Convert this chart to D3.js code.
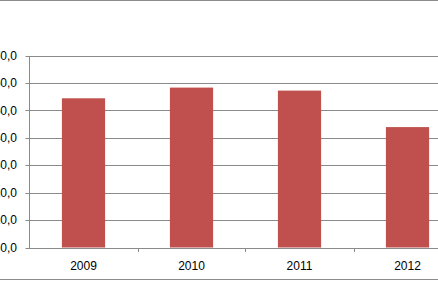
<!DOCTYPE html>
<html>
<head>
<meta charset="utf-8">
<script src="https://cdn.jsdelivr.net/npm/d3@7"></script>
<style>
  html, body { margin: 0; padding: 0; background: #fff; overflow: hidden; }
  svg { display: block; font-family: "Liberation Sans", Arial, sans-serif; }
</style>
</head>
<body>
<div id="chart"></div>
<script>
const years = ["2009", "2010", "2011", "2012"]
const values = [54.4, 58.3, 57.2, 43.9]
const yTicks = [0, 10, 20, 30, 40, 50, 60, 70]

const width = 438, height = 281
const margin = ({top: 55.5, bottom: 33.5, left: 29.5})

const svg = d3.select("#chart")
  .append("svg")
  .attr("width", width)
  .attr("height", height)
  .attr("viewBox", [0, 0, width, height])

// plot area runs past the right edge of the picture
const x = d3.scaleBand()
  .domain(years)
  .range([margin.left, margin.left + 432])
  .paddingInner(0.6)
  .paddingOuter(0.3)

const y = d3.scaleLinear()
  .domain([0, 70])
  .range([height - margin.bottom, margin.top])

const fmt = d => d3.format(".1f")(d).replace(".", ",")

// outer frame lines
svg.append("g")
  .attr("stroke", "#8c8c8c")
  .attr("stroke-width", 1.2)
  .call(g => g.append("line").attr("x1", 0).attr("x2", width).attr("y1", 0.5).attr("y2", 0.5))
  .call(g => g.append("line").attr("x1", 0).attr("x2", width).attr("y1", 279.5).attr("y2", 279.5))

// gridlines
svg.append("g")
  .attr("stroke", "#8a8a8a")
  .selectAll("line")
  .data(yTicks)
  .join("line")
  .attr("x1", margin.left - 4)
  .attr("x2", width)
  .attr("y1", d => Math.round(y(d)) + 0.5)
  .attr("y2", d => Math.round(y(d)) + 0.5)

// y axis line
svg.append("line")
  .attr("stroke", "#8a8a8a")
  .attr("x1", margin.left).attr("x2", margin.left)
  .attr("y1", Math.round(y(70)) + 0.5)
  .attr("y2", Math.round(y(0)) + 0.5)

// y labels
svg.append("g")
  .attr("font-size", 12)
  .attr("fill", "#000")
  .attr("text-anchor", "end")
  .selectAll("text")
  .data(yTicks)
  .join("text")
  .attr("x", 17)
  .attr("y", d => y(d))
  .attr("dy", "0.35em")
  .text(fmt)

// bars
svg.append("g")
  .attr("fill", "#c0504d")
  .selectAll("rect")
  .data(values)
  .join("rect")
  .attr("x", (d, i) => x(years[i]))
  .attr("width", x.bandwidth())
  .attr("y", d => y(d))
  .attr("height", d => y(0) - y(d))

// category tick marks at band edges
const step = x.step()
svg.append("g")
  .attr("stroke", "#8a8a8a")
  .selectAll("line")
  .data(years.slice(1))
  .join("line")
  .attr("x1", d => Math.round(x(d) - step * 0.3) + 0.5)
  .attr("x2", d => Math.round(x(d) - step * 0.3) + 0.5)
  .attr("y1", Math.round(y(0)))
  .attr("y2", Math.round(y(0)) + 4)

// x labels
svg.append("g")
  .attr("font-size", 12)
  .attr("fill", "#000")
  .attr("text-anchor", "middle")
  .selectAll("text")
  .data(years)
  .join("text")
  .attr("x", d => x(d) + x.bandwidth() / 2)
  .attr("y", 269.5)
  .text(d => d)
</script>
</body>
</html>
